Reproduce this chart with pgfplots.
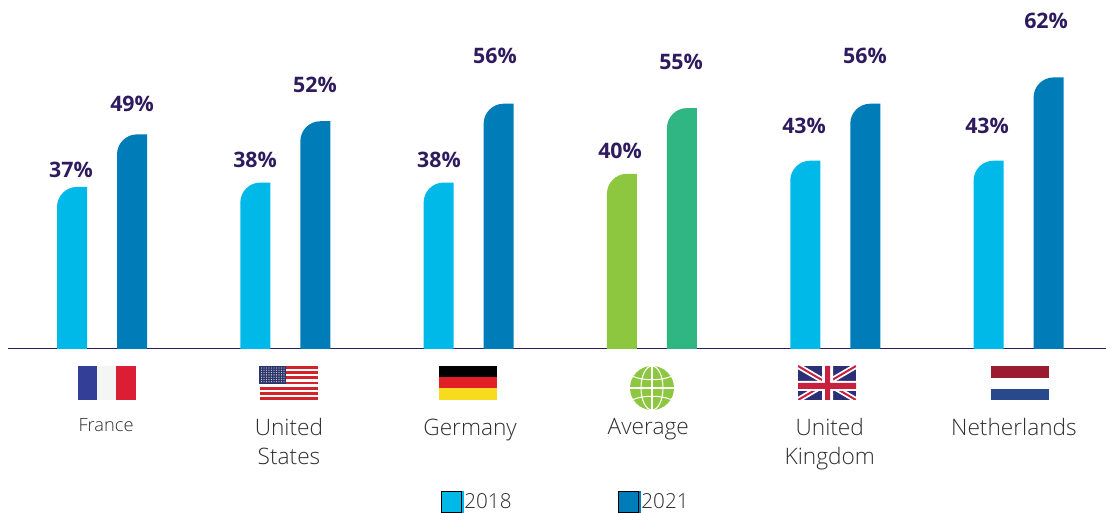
\documentclass[border=0pt]{standalone}
\usepackage{pgfplots}
\usepackage{pgfplotstable}
\pgfplotsset{compat=1.18}
\usepackage{fontspec}
\setmainfont{Open Sans}[UprightFont=* Light,BoldFont=* Bold]
\definecolor{cA}{HTML}{00B9E8}
\definecolor{cB}{HTML}{007DB8}
\definecolor{cC}{HTML}{8DC63F}
\definecolor{cD}{HTML}{2FB682}
\definecolor{lab}{HTML}{2E1A5E}
\definecolor{txt}{HTML}{2E2E2E}
\definecolor{frB}{HTML}{333F97}
\definecolor{frW}{HTML}{F4F6F6}
\definecolor{frR}{HTML}{DB1E34}
\definecolor{usR}{HTML}{D2232A}
\definecolor{usB}{HTML}{2B3468}
\definecolor{deR}{HTML}{E21F26}
\definecolor{deY}{HTML}{F6DB1F}
\definecolor{nlR}{HTML}{9B1C31}
\definecolor{nlB}{HTML}{2A488C}
\definecolor{ukB}{HTML}{2A2F76}
\definecolor{ukR}{HTML}{C8203F}
\makeatletter
\newdimen\rr \rr=15pt
\newdimen\hxl \newdimen\hxr \newdimen\hyl \newdimen\hyt \newdimen\hw \newdimen\hh
\def\hookrect#1#2{%
  \edef\savereg{\pgf@xa=\the\pgf@xa \pgf@ya=\the\pgf@ya \pgf@xb=\the\pgf@xb \pgf@yb=\the\pgf@yb
    \pgf@xc=\the\pgf@xc \pgf@yc=\the\pgf@yc \pgf@x=\the\pgf@x \pgf@y=\the\pgf@y\relax}%
  \pgf@process{#1}\global\hxl=\pgf@x \global\hyl=\pgf@y
  \pgf@process{#2}\global\hw=\pgf@x \global\hh=\pgf@y
  \global\hxr=\hxl \global\advance\hxr by\hw
  \global\hyt=\hyl \global\advance\hyt by\hh
  \ifdim\hxr<\hxl \hw=\hxl \global\hxl=\hxr \global\hxr=\hw \fi
  \ifdim\hyt<\hyl \hh=\hyl \global\hyl=\hyt \global\hyt=\hh \fi
  \pgfpathmoveto{\pgfqpoint{\hxl}{\hyl}}%
  \pgfpathlineto{\pgfpoint{\hxl}{\hyt-\rr}}%
  \pgfpathcurveto{\pgfpoint{\hxl}{\hyt-0.45\rr}}{\pgfpoint{\hxl+0.45\rr}{\hyt}}{\pgfpoint{\hxl+\rr}{\hyt}}%
  \pgfpathlineto{\pgfqpoint{\hxr}{\hyt}}%
  \pgfpathlineto{\pgfqpoint{\hxr}{\hyl}}%
  \pgfpathclose
  \savereg}
\def\barhooks{\let\pgfpathrectangle\hookrect}
\makeatother
\pgfplotstableread{
x y
0 37
1 38
2 38
4 43
5 43
}\tA
\pgfplotstableread{
x y
0 49
1 52
2 56
4 56
5 62
}\tB
\pgfplotstableread{
x y
3 40
}\tC
\pgfplotstableread{
x y
3 55
}\tD
\pgfplotstableread{
lx ly v
-0.169 40.87 37
0.164 55.94 49
0.835 43.2 38
1.162 60.3 52
1.838 43.15 38
2.144 66.9 56
2.826 45.2 40
3.159 65.5 55
3.83 50.9 43
4.162 66.9 56
4.828 50.9 43
5.15 74.9 62
}\tL
\pgfplotsset{barstyle/.style={
  ybar, bar width=22.5pt, draw=none, forget plot,
  /utils/exec={\barhooks},
}}
\begin{document}
\begin{tikzpicture}[x=1pt,y=1pt]
\useasboundingbox (0,0) rectangle (829.5pt,384.75pt);
\begin{axis}[at={(6pt,123pt)},anchor=south west,
  scale only axis,width=823.5pt,height=261.75pt,
  xmin=-0.5128,xmax=5.477,ymin=0,ymax=79.68,
  clip=false,
  axis y line=none,axis x line=bottom,
  x axis line style={-,draw=lab,line width=0.75pt},
  xtick={0.022,1.02,2.008,2.98,3.97,4.975},
  xticklabels={{\fontsize{13.7}{15}\selectfont France},United\\States,Germany,Average,United\\Kingdom,Netherlands},
  major tick length=0pt,
  xticklabel style={align=center,text=txt,font=\fontsize{17}{21.5}\selectfont,anchor=north,yshift=-52pt,inner sep=0pt},
  legend columns=2,
  legend style={at={(0.3945,-0.405)},anchor=north west,draw=none,fill=none,inner sep=0pt,outer sep=0pt,
    font=\fontsize{15.5}{18}\selectfont,text=txt,
    /tikz/every even column/.append style={column sep=78pt}},
  legend cell align=left,
]
\addplot[barstyle,fill=cA,bar shift=-22.5pt] table[x=x,y=y]{\tA};
\addplot[barstyle,fill=cB,bar shift=22.5pt] table[x=x,y=y]{\tB};
\addplot[barstyle,fill=cC,bar shift=-22.5pt] table[x=x,y=y]{\tC};
\addplot[barstyle,fill=cD,bar shift=22.5pt] table[x=x,y=y]{\tD};
\addplot[forget plot,draw=none,mark=none,point meta=explicit,
  nodes near coords={\pgfmathprintnumber[fixed,precision=0,assume math mode=true]{\pgfplotspointmeta}\%},
  every node near coord/.style={anchor=center,font=\fontsize{16}{18}\selectfont\bfseries,text=lab,inner sep=0pt},
] table[x=lx,y=ly,meta=v]{\tL};
\addlegendimage{legend image code/.code={\fill[cA,overlay] (0pt,-8pt) rectangle (16.5pt,8pt);\path (0pt,-8pt) rectangle (15pt,8pt);}}
\addlegendentry{2018}
\addlegendimage{legend image code/.code={\fill[cB,overlay] (0pt,-8pt) rectangle (16.5pt,8pt);\path (0pt,-8pt) rectangle (15pt,8pt);}}
\addlegendentry{2021}
\end{axis}
\begin{scope}[x=0.75pt,y=-0.75pt,yshift=384.75pt]
% France
\fill[frB] (78,366) rectangle (97,400);
\fill[frW] (97,366) rectangle (116,400);
\fill[frR] (116,366) rectangle (136,400);
% US
\fill[usR] (260,366) rectangle (318,368.6);
\foreach \i in {2,4,6,8,10,12}{\fill[usR] ({260},{366+\i*2.62}) rectangle (318,{366+\i*2.62+2.62});}
\fill[usB] (259,366) rectangle (286,384);
\foreach \i in {0,...,9}{\foreach \j in {0,...,6}{\fill[white!75!usB] ({261.5+\i*2.5},{368+\j*2.3}) circle (0.65);}}
% Germany
\fill[black] (439,366) rectangle (497,377);
\fill[deR] (439,377) rectangle (497,388);
\fill[deY] (439,388) rectangle (497,400);
% Globe
\fill[cC] (652,388) circle (22);
\begin{scope}
\clip (652,388) circle (22);
\draw[white,line width=0.8pt] (630,388) -- (674,388) (652,366) -- (652,410);
\draw[white,line width=0.8pt] (652,388) ellipse (11 and 22);
\draw[white,line width=0.8pt] (632,376) .. controls (642,381) and (662,381) .. (672,376);
\draw[white,line width=0.8pt] (632,400) .. controls (642,395) and (662,395) .. (672,400);
\end{scope}
% UK
\begin{scope}
\clip (798,366) rectangle (856,400);
\fill[ukB] (798,366) rectangle (856,400);
\draw[white,line width=4.2pt] (798,366) -- (856,400) (798,400) -- (856,366);
\draw[ukR,line width=1.5pt] (798,366) -- (856,400) (798,400) -- (856,366);
\fill[white] (798,381) rectangle (856,391)  (822,366) rectangle (833,400);
\fill[ukR] (798,383) rectangle (856,389)  (825,366) rectangle (830,400);
\end{scope}
% Netherlands
\fill[nlR] (991,366) rectangle (1049,378);
\fill[nlB] (991,389) rectangle (1049,400);
\end{scope}
\end{tikzpicture}
\end{document}
